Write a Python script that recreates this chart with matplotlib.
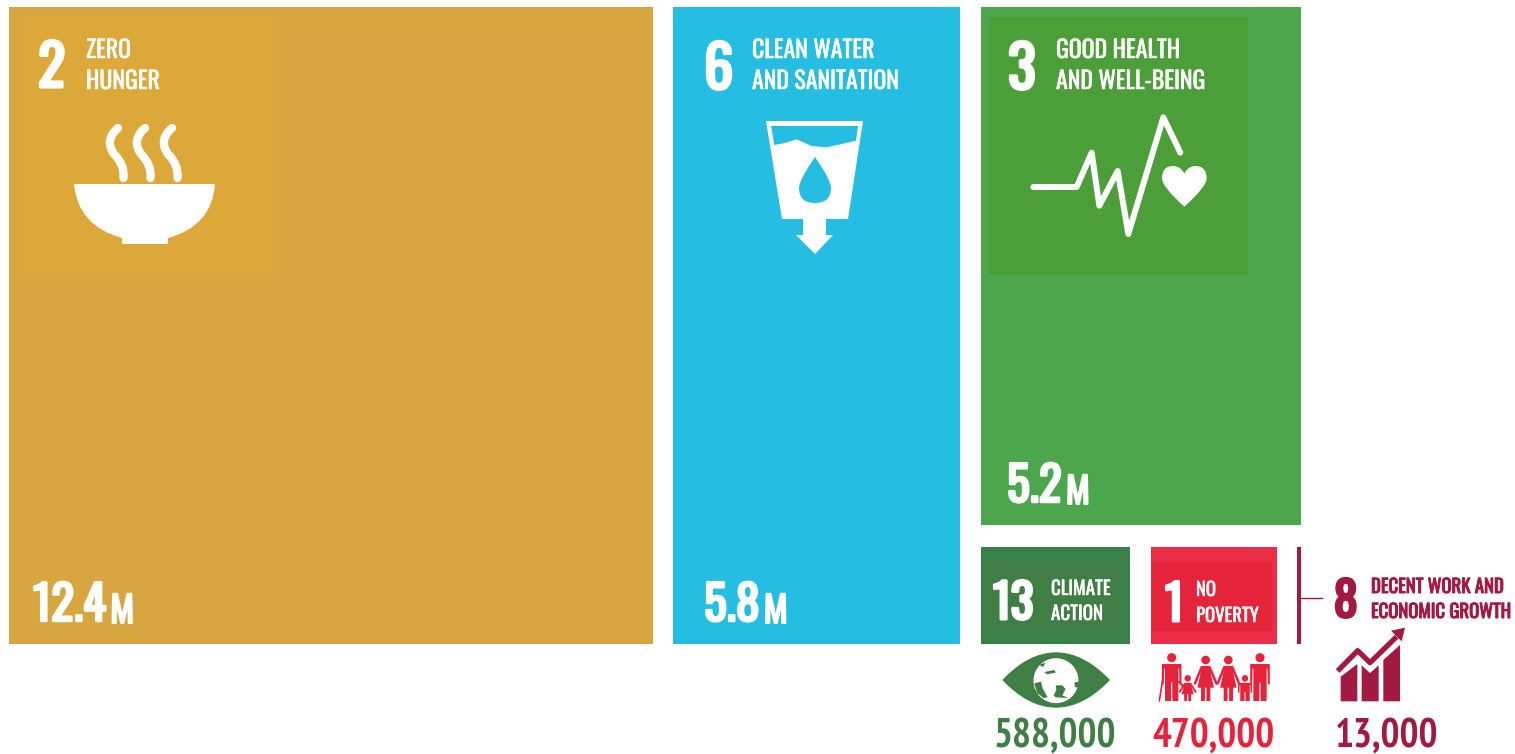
import numpy as np
import matplotlib
matplotlib.use("Agg")
import matplotlib.pyplot as plt
import matplotlib.patheffects as pe
from matplotlib.patches import Rectangle, Polygon, Circle, PathPatch
from matplotlib.path import Path

# chart values, people affected per goal
goal_numbers = ["2", "6", "3", "13", "1", "8"]
goal_names = [["ZERO", "HUNGER"],
              ["CLEAN WATER", "AND SANITATION"],
              ["GOOD HEALTH", "AND WELL-BEING"],
              ["CLIMATE", "ACTION"],
              ["NO", "POVERTY"],
              ["DECENT WORK AND", "ECONOMIC GROWTH"]]
people = [12400000, 5800000, 5200000, 588000, 470000, 13000]

goal_colors = ["#D8A641", "#26BDE2", "#4CA64C", "#3A8049", "#EB2E47", "#A21942"]
badge_colors = ["#DDA83A", "#26BDE2", "#4C9F38", "#3F7E44", "#E5243B", None]

# layout in image pixels: the tiles of the original are hand placed, not strictly to scale
tile_boxes = [(9, 7, 644, 637), (673, 7, 287, 637), (981, 7, 320, 518),
              (981, 547, 149, 97), (1151, 547, 126, 97), (1297, 547, 4, 97)]
badge_boxes = [(20, 18, 256, 257), None, (989, 17, 259, 258),
               (988, 562, 131, 69), (1152, 562, 120, 69), None]
# x, baseline, font size of the big numeral
numeral_pos = [(38, 87, 41), (704, 89, 42), (1008, 89, 42), (993, 619, 34), (1165, 621, 35), (1334, 617, 34)]
# x, baseline of first line, baseline of second, font size
name_pos = [(86, 58, 89, 17.2), (752, 58, 89, 17.2), (1056, 58, 89, 17.2),
            (1051, 595, 620, 13.7), (1196, 596, 622, 13.5), (1371, 593, 618, 13.5)]
value_pos = [(33, 621), (704, 621), (1007, 502)]
count_pos = [(1055, 747), (1213.5, 747), (1387, 747)]

# Oswald is what the badges are set in; fall back if it is missing
CONDENSED = ["Oswald", "Liberation Sans"]
NARROW = ["PT Sans Narrow", "Oswald", "Liberation Sans"]

fig = plt.figure(figsize=(15.15, 7.54), dpi=100)
ax = fig.add_axes([0, 0, 1, 1])
ax.set_xlim(0, 1515)
ax.set_ylim(754, 0)
ax.axis("off")


def curve(points):
    # smooth path through control points, quadratic segments
    verts = [points[0]]
    codes = [Path.MOVETO]
    for i in range(1, len(points) - 1, 2):
        verts += [points[i], points[i + 1]]
        codes += [Path.CURVE3, Path.CURVE3]
    return Path(verts, codes)


def zoomed(points, x0, y0):
    return [(x0 + px / 3, y0 + py / 3) for px, py in points]


def poly(points, color, z=3):
    ax.add_patch(Polygon(points, closed=True, fc=color, ec="none", zorder=z))


def stroke(points, color, lw, z=3, cap="round"):
    xs, ys = zip(*points)
    ax.plot(xs, ys, color=color, lw=lw, solid_capstyle=cap, solid_joinstyle="round", zorder=z)


def heavy(color, lw):
    # the variable Oswald file only gives its regular weight, so thicken it
    return [pe.withStroke(linewidth=lw, foreground=color)]


def draw_bowl():
    w = "white"
    for dx in [0, 27, 54]:
        steam = curve([(118 + dx, 128), (104 + dx, 140), (114 + dx, 154), (125 + dx, 165), (123.5 + dx, 178)])
        ax.add_patch(PathPatch(steam, fc="none", ec=w, lw=6, capstyle="round", zorder=3))
    bowl = Path([(74, 184), (215, 184), (212, 226), (168, 238), (122, 238), (78, 226), (74, 184)],
                [Path.MOVETO, Path.LINETO, Path.CURVE3, Path.CURVE3, Path.LINETO, Path.CURVE3, Path.CURVE3])
    ax.add_patch(PathPatch(bowl, fc=w, ec="none", zorder=3))
    ax.add_patch(Rectangle((122, 234), 46, 9.5, fc=w, ec="none", zorder=3))


def draw_cup():
    w, blue = "white", goal_colors[1]
    poly([(766, 121), (863, 121), (848, 219), (782, 219)], w)
    wave = zoomed([(283, 375), (310, 370), (350, 358), (395, 378), (440, 382), (485, 372), (528, 362)], 680, 20)
    poly([(771, 126), (858, 126)] + wave[::-1], blue, 4)
    drop = Path([(815, 157), (799, 180), (799, 188), (799, 203), (815, 203), (831, 203), (831, 188), (831, 180), (815, 157)],
                [Path.MOVETO] + [Path.CURVE3] * 8)
    ax.add_patch(PathPatch(drop, fc=blue, ec="none", zorder=4))
    poly([(803, 219), (826, 219), (826, 235), (833, 235), (815, 254), (796, 235), (803, 235)], w)


def draw_pulse():
    w = "white"
    pts = zoomed([(145, 531), (275, 531), (320, 428), (343, 587), (398, 483), (430, 672), (535, 322), (586, 428)], 985, 10)
    stroke(pts, w, 4.3)
    heart = Path(zoomed([(598, 590), (531, 530), (531, 505), (531, 468), (565, 468), (585, 468), (598, 490),
                         (611, 468), (630, 468), (665, 468), (665, 505), (665, 530), (598, 590)], 985, 10),
                 [Path.MOVETO] + [Path.CURVE3] * 12)
    ax.add_patch(PathPatch(heart, fc=w, ec="none", zorder=3))


def draw_eye():
    c = "#3F7E44"
    eye = Path(zoomed([(82, 420), (160, 337), (243, 337), (326, 337), (405, 420),
                       (326, 503), (243, 503), (160, 503), (82, 420)], 975, 540),
               [Path.MOVETO] + [Path.CURVE3] * 8)
    ax.add_patch(PathPatch(eye, fc=c, ec="none", zorder=3))
    ax.add_patch(Circle((975 + 243 / 3, 540 + 422 / 3), 22.5, fc="white", ec="none", zorder=4))
    # seas cut into the white globe, rough shapes
    seas = [[(178, 430), (198, 425), (203, 445), (218, 472), (205, 474), (186, 458)],
            [(242, 436), (262, 436), (272, 447), (262, 466), (280, 474), (242, 472), (236, 466), (244, 450)],
            [(208, 396), (238, 390), (242, 398), (216, 403)],
            [(192, 374), (212, 368), (204, 381)],
            [(298, 428), (312, 424), (310, 442), (300, 442)]]
    for sea in seas:
        poly(zoomed(sea, 975, 540), c, 5)


def draw_person(cx, head_y, scale, dress, c):
    # one family figure, measured in the 3x zoom coordinates
    x0, y0 = 975, 540
    ax.add_patch(Circle((x0 + cx / 3, y0 + head_y / 3), 13 * scale / 3, fc=c, ec="none", zorder=3))
    top = head_y + 18 * scale
    foot = 483
    h = foot - top
    s = 28 * scale
    if dress:
        body = [(cx - s * .42, top), (cx + s * .42, top), (cx + s * .62, top + h * .3), (cx + s * .88, top + h * .62),
                (cx + s * .5, top + h * .62), (cx + s * .5, foot), (cx + s * .08, foot), (cx + s * .08, top + h * .62),
                (cx - s * .08, top + h * .62), (cx - s * .08, foot), (cx - s * .5, foot), (cx - s * .5, top + h * .62),
                (cx - s * .88, top + h * .62), (cx - s * .62, top + h * .3)]
        stroke(zoomed([(cx - s * .42, top + 3), (cx - s * 1.15, top + h * .5)], x0, y0), c, 1.8 * scale)
        stroke(zoomed([(cx + s * .42, top + 3), (cx + s * 1.15, top + h * .5)], x0, y0), c, 1.8 * scale)
    else:
        body = [(cx - s, top), (cx + s, top), (cx + s, top + h * .55), (cx + s * .8, top + h * .55), (cx + s * .76, top + h * .12),
                (cx + s * .68, top + h * .12), (cx + s * .68, foot), (cx + s * .06, foot), (cx + s * .06, top + h * .5),
                (cx - s * .06, top + h * .5), (cx - s * .06, foot), (cx - s * .68, foot), (cx - s * .68, top + h * .12),
                (cx - s * .76, top + h * .12), (cx - s * .8, top + h * .55), (cx - s, top + h * .55)]
    poly(zoomed(body, x0, y0), c)


def draw_family():
    c = "#E5243B"
    draw_person(590, 353, 1.05, False, c)
    draw_person(855, 353, 1.05, False, c)
    draw_person(692, 360, 1.0, True, c)
    draw_person(760, 360, 1.0, True, c)
    draw_person(638, 415, .75, True, c)
    draw_person(810, 415, .75, False, c)
    stroke(zoomed([(565, 405), (553, 483)], 975, 540), c, 1.2)
    stroke(zoomed([(612, 425), (625, 440)], 975, 540), c, 1.5)


def draw_growth():
    c = "#A21942"
    x0, y0 = 1285, 540
    poly(zoomed([(167, 410), (217, 372), (217, 484), (167, 484)], x0, y0), c)
    poly(zoomed([(230, 376), (255, 399), (281, 376), (281, 484), (230, 484)], x0, y0), c)
    poly(zoomed([(295, 360), (345, 315), (345, 484), (295, 484)], x0, y0), c)
    stroke(zoomed([(158, 393), (218, 332), (255, 368), (335, 290)], x0, y0), c, 3.8, cap="butt")
    poly(zoomed([(360, 263), (318, 272), (350, 304)], x0, y0), c)


# tiles and badges
for box, color in zip(tile_boxes, goal_colors):
    ax.add_patch(Rectangle(box[:2], box[2], box[3], fc=color, ec="none", zorder=1))
for box, color in zip(badge_boxes, badge_colors):
    if box is not None:
        ax.add_patch(Rectangle(box[:2], box[2], box[3], fc=color, ec="none", zorder=2))
ax.plot([1301, 1322], [598, 598], color=goal_colors[5], lw=1, zorder=2)

# numerals and goal names
for i in range(len(goal_numbers)):
    col = goal_colors[5] if i == 5 else "white"
    x, y, size = numeral_pos[i]
    ax.text(x, y, goal_numbers[i], color=col, fontsize=size, family=CONDENSED, va="baseline", zorder=6,
            path_effects=heavy(col, 2.2))
    x, y1, y2, size = name_pos[i]
    lw = 0.7 if i == 5 else 0.35
    ax.text(x, y1, goal_names[i][0], color=col, fontsize=size, family=CONDENSED, va="baseline", zorder=6,
            path_effects=heavy(col, lw))
    ax.text(x, y2, goal_names[i][1], color=col, fontsize=size, family=CONDENSED, va="baseline", zorder=6,
            path_effects=heavy(col, lw))

# big values in millions, with a small M
for v, (x, y) in zip(people[:3], value_pos):
    t = ax.text(x, y, f"{v / 1e6:.1f}", color="white", fontsize=34.5, family=CONDENSED, va="baseline", zorder=6,
                path_effects=heavy("white", 1.8))
    ax.annotate("M", xy=(1, 0), xycoords=t, xytext=(3, 0), textcoords="offset points", color="white",
                fontsize=26, family=CONDENSED, va="bottom", zorder=6, path_effects=heavy("white", 1.4))

# small values spelled out under their icons
for v, (x, y), col in zip(people[3:], count_pos, ["#3F7E44", "#E5243B", "#A21942"]):
    ax.text(x, y, f"{v:,}", color=col, fontsize=28.5, family=NARROW, weight="bold", ha="center", va="baseline", zorder=6)

draw_bowl()
draw_cup()
draw_pulse()
draw_eye()
draw_family()
draw_growth()

fig.savefig("out.png", dpi=100)
